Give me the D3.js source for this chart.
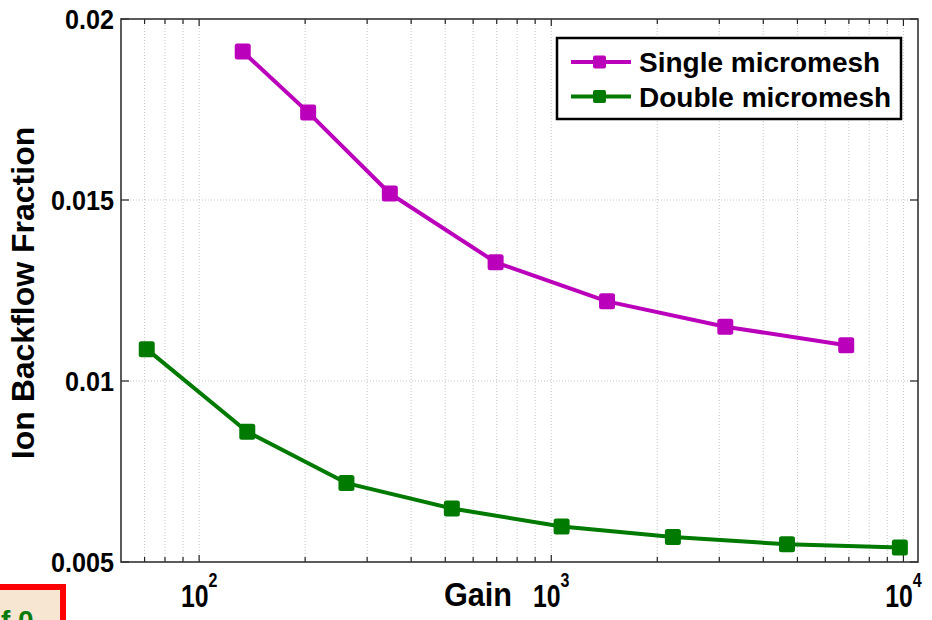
<!DOCTYPE html>
<html><head><meta charset="utf-8">
<script src="https://cdn.jsdelivr.net/npm/d3@7"></script>
<style>
html,body{margin:0;padding:0;background:#fff;}
svg{display:block;font-family:"Liberation Sans",Arial,sans-serif;font-weight:bold;}
</style></head>
<body><svg id="c" width="932" height="620"></svg>
<script>
const singleGain = [133, 204, 348, 695, 1440, 3120, 6880];
const singleIBF  = [0.0191, 0.01742, 0.01518, 0.01328, 0.01220, 0.01150, 0.01099];
const doubleGain = [71, 137, 262, 522, 1070, 2215, 4670, 9770];
const doubleIBF  = [0.01088, 0.00860, 0.00718, 0.00648, 0.00598, 0.00569, 0.00549, 0.00540];
const yTicks = [0.005, 0.01, 0.015, 0.02];
const yTickLabels = ["0.005", "0.01", "0.015", "0.02"];
const xMajor = [100, 1000, 10000];
const xMajorExp = ["2", "3", "4"];
const seriesNames = ["Single micromesh", "Double micromesh"];
const seriesColors = ["#bb00bb", "#007a00"];

const svg = d3.select("#c");
const L = 121, R = 918, T = 19, B = 562;
const x = d3.scaleLog().domain([60, 11000]).range([L, R]);
const y = d3.scaleLinear().domain([0.005, 0.02]).range([B, T]);

const xMinor = [];
for (let e = 1; e <= 4; e++) for (let m = 1; m <= 9; m++) {
  const v = m * Math.pow(10, e);
  if (v > 60 && v < 11000) xMinor.push(v);
}

const g = svg.append("g");
g.selectAll("line.gx").data(xMinor).enter().append("line")
  .attr("x1", d => x(d)).attr("x2", d => x(d)).attr("y1", T).attr("y2", B)
  .attr("stroke", "#c8c8c8").attr("stroke-width", 1).attr("stroke-dasharray", "1,2");
g.selectAll("line.gy").data(yTicks.slice(1, 3)).enter().append("line")
  .attr("x1", L).attr("x2", R).attr("y1", d => y(d)).attr("y2", d => y(d))
  .attr("stroke", "#c8c8c8").attr("stroke-width", 1).attr("stroke-dasharray", "1,2");

const tickLen = v => xMajor.includes(v) ? 7 : 5;
g.selectAll("line.tb").data(xMinor).enter().append("line")
  .attr("x1", d => x(d)).attr("x2", d => x(d)).attr("y1", B).attr("y2", d => B - tickLen(d))
  .attr("stroke", "#222").attr("stroke-width", 1.2);
g.selectAll("line.tt").data(xMinor).enter().append("line")
  .attr("x1", d => x(d)).attr("x2", d => x(d)).attr("y1", T).attr("y2", d => T + tickLen(d))
  .attr("stroke", "#222").attr("stroke-width", 1.2);
g.selectAll("line.tl").data(yTicks).enter().append("line")
  .attr("x1", L).attr("x2", L + 8).attr("y1", d => y(d)).attr("y2", d => y(d))
  .attr("stroke", "#222").attr("stroke-width", 1.2);
g.selectAll("line.tr").data(yTicks).enter().append("line")
  .attr("x1", R).attr("x2", R - 8).attr("y1", d => y(d)).attr("y2", d => y(d))
  .attr("stroke", "#222").attr("stroke-width", 1.2);

g.append("rect").attr("x", L).attr("y", T).attr("width", R - L).attr("height", B - T)
  .attr("fill", "none").attr("stroke", "#333").attr("stroke-width", 1.6);

g.selectAll("text.yl").data(yTicks).enter().append("text")
  .attr("transform", d => `translate(114,${y(d)}) scale(0.9,1)`)
  .attr("dy", "0.36em")
  .attr("text-anchor", "end").attr("font-size", 28).attr("fill", "#000")
  .text((d, i) => yTickLabels[i]);

xMajor.forEach((v, i) => {
  const t = g.append("text").attr("transform", `translate(${x(v)},607) scale(0.8,1)`)
    .attr("text-anchor", "middle").attr("font-size", 31).attr("fill", "#000");
  t.append("tspan").text("10");
  t.append("tspan").attr("dy", -20).attr("font-size", 20).text(xMajorExp[i]);
});

g.append("text").attr("transform", "translate(478,606) scale(0.93,1)").attr("text-anchor", "middle")
  .attr("font-size", 33).text("Gain");
g.append("text").attr("transform", "translate(34,293) rotate(-90)")
  .attr("text-anchor", "middle").attr("font-size", 32).text("Ion Backflow Fraction");

const series = [
  singleGain.map((v, i) => [v, singleIBF[i]]),
  doubleGain.map((v, i) => [v, doubleIBF[i]])
];
const line = d3.line().x(d => x(d[0])).y(d => y(d[1]));
series.forEach((s, k) => {
  g.append("path").attr("d", line(s)).attr("fill", "none")
    .attr("stroke", seriesColors[k]).attr("stroke-width", 4).attr("stroke-linejoin", "round");
  g.selectAll(null).data(s).enter().append("rect")
    .attr("x", d => x(d[0]) - 8).attr("y", d => y(d[1]) - 8)
    .attr("width", 16).attr("height", 16).attr("rx", 2.5)
    .attr("fill", seriesColors[k]);
});

const lg = g.append("g");
lg.append("rect").attr("x", 557).attr("y", 38).attr("width", 344).attr("height", 81)
  .attr("fill", "#fff").attr("stroke", "#000").attr("stroke-width", 2.5);
seriesNames.forEach((n, k) => {
  const yy = 62 + k * 34.5;
  lg.append("line").attr("x1", 571).attr("x2", 631).attr("y1", yy).attr("y2", yy)
    .attr("stroke", seriesColors[k]).attr("stroke-width", 4);
  lg.append("rect").attr("x", 593).attr("y", yy - 6.5).attr("width", 13).attr("height", 13)
    .attr("rx", 2).attr("fill", seriesColors[k]);
  lg.append("text").attr("x", 639).attr("y", yy).attr("dy", "0.36em")
    .attr("font-size", 28).text(n);
});

svg.append("rect").attr("x", -3).attr("y", 587).attr("width", 66).attr("height", 45)
  .attr("fill", "#f6e6d2").attr("stroke", "#ff0000").attr("stroke-width", 6);
svg.append("text").attr("x", 1).attr("y", 630).attr("font-size", 28)
  .attr("fill", "#0a7a0a").text("f 0");
</script></body></html>
